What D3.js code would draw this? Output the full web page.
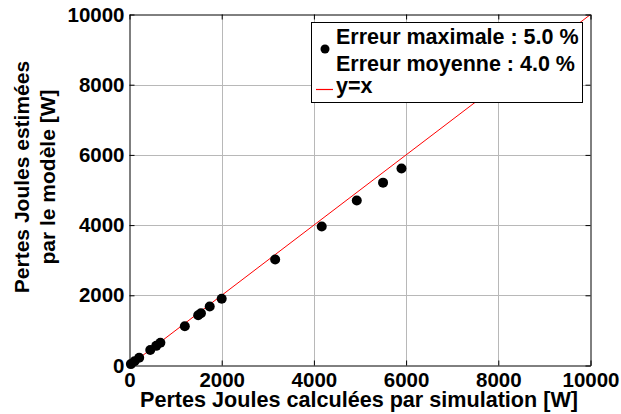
<!DOCTYPE html>
<html>
<head>
<meta charset="utf-8">
<script src="https://cdn.jsdelivr.net/npm/d3@7"></script>
<style>
  html, body { margin: 0; padding: 0; background: #fff; }
  svg { display: block; font-family: "Liberation Sans", Arial, sans-serif; font-weight: bold; }
</style>
</head>
<body>
<svg id="chart" width="621" height="414"></svg>
<script>
// Data
const simulated = [30, 110, 210, 450, 580, 670, 1200, 1490, 1550, 1740, 2000, 3160, 4170, 4930, 5500, 5900];
const estimated = [40, 120, 220, 440, 560, 650, 1120, 1430, 1490, 1680, 1900, 3020, 3960, 4700, 5210, 5610];
const xTicks = [0, 2000, 4000, 6000, 8000, 10000];
const yTicks = [0, 2000, 4000, 6000, 8000, 10000];
const legendLabels = ["Erreur maximale : 5.0 %", "Erreur moyenne : 4.0 %", "y=x"];
const xTitle = "Pertes Joules calculées par simulation [W]";
const yTitle = ["Pertes Joules estimées", "par le modèle [W]"];

const svg = d3.select("#chart");
const L = 129.5, R = 590.5, T = 14.5, B = 365.5;
const x = d3.scaleLinear().domain([0, 10000]).range([L, R]);
const y = d3.scaleLinear().domain([0, 10000]).range([B, T]);

// grid
const grid = svg.append("g").attr("stroke", "#b8b8b8").attr("stroke-width", 1);
xTicks.slice(1, -1).forEach(t => grid.append("line").attr("x1", Math.round(x(t)) + 0.5).attr("x2", Math.round(x(t)) + 0.5).attr("y1", T).attr("y2", B));
yTicks.slice(1, -1).forEach(t => grid.append("line").attr("y1", Math.round(y(t)) + 0.5).attr("y2", Math.round(y(t)) + 0.5).attr("x1", L).attr("x2", R));

// y = x line
svg.append("clipPath").attr("id", "clip").append("rect").attr("x", L).attr("y", T).attr("width", R - L).attr("height", B - T);
svg.append("line").attr("clip-path", "url(#clip)")
  .attr("x1", x(0)).attr("y1", y(0)).attr("x2", x(10000)).attr("y2", y(10000))
  .attr("stroke", "#ff0000").attr("stroke-width", 1);

// points
svg.append("g").selectAll("circle").data(simulated).join("circle")
  .attr("cx", d => x(d)).attr("cy", (d, i) => y(estimated[i])).attr("r", 5).attr("fill", "#000");

// axes (MATLAB style box with inward ticks)
const fs = 20.5;
const styleText = g => g.selectAll("text").attr("font-size", fs).attr("font-weight", "bold").attr("fill", "#000").attr("font-family", "Liberation Sans, Arial, sans-serif");
svg.append("g").attr("transform", `translate(0,${B})`)
  .call(d3.axisBottom(x).tickValues(xTicks).tickSizeInner(-5).tickSizeOuter(0).tickPadding(7).tickFormat(d3.format("d")))
  .call(g => { g.select(".domain").attr("stroke", "#000"); styleText(g); });
svg.append("g").attr("transform", `translate(${L},0)`)
  .call(d3.axisLeft(y).tickValues(yTicks).tickSizeInner(-5).tickSizeOuter(0).tickPadding(5).tickFormat(d3.format("d")))
  .call(g => { g.select(".domain").attr("stroke", "#000"); styleText(g); });
svg.append("g").attr("transform", `translate(0,${T})`)
  .call(d3.axisTop(x).tickValues(xTicks).tickSizeInner(-5).tickSizeOuter(0).tickFormat(""))
  .call(g => g.select(".domain").attr("stroke", "#000"));
svg.append("g").attr("transform", `translate(${R},0)`)
  .call(d3.axisRight(y).tickValues(yTicks).tickSizeInner(-5).tickSizeOuter(0).tickFormat(""))
  .call(g => g.select(".domain").attr("stroke", "#000"));

// axis titles
svg.append("text").attr("x", 359).attr("y", 407).attr("text-anchor", "middle")
  .attr("font-size", 21.6).attr("fill", "#000").text(xTitle);
const yt = svg.append("text").attr("transform", "translate(0,177) rotate(-90)").attr("text-anchor", "middle").attr("font-size", 21).attr("fill", "#000");
yt.append("tspan").attr("x", 0).attr("y", 29).text(yTitle[0]);
yt.append("tspan").attr("x", 0).attr("y", 55).text(yTitle[1]);

// legend
const lg = svg.append("g");
lg.append("rect").attr("x", 311.5).attr("y", 22.5).attr("width", 271).attr("height", 80).attr("fill", "#fff").attr("stroke", "#000").attr("stroke-width", 1);
lg.append("circle").attr("cx", 325).attr("cy", 49).attr("r", 4.5).attr("fill", "#000");
lg.append("line").attr("x1", 316).attr("x2", 333).attr("y1", 89.5).attr("y2", 89.5).attr("stroke", "#ff0000").attr("stroke-width", 1.2);
const ly = [44, 71, 93];
legendLabels.forEach((t, i) => lg.append("text").attr("x", 336).attr("y", ly[i]).attr("font-size", 21.5).attr("fill", "#000").text(t));
</script>
</body>
</html>
